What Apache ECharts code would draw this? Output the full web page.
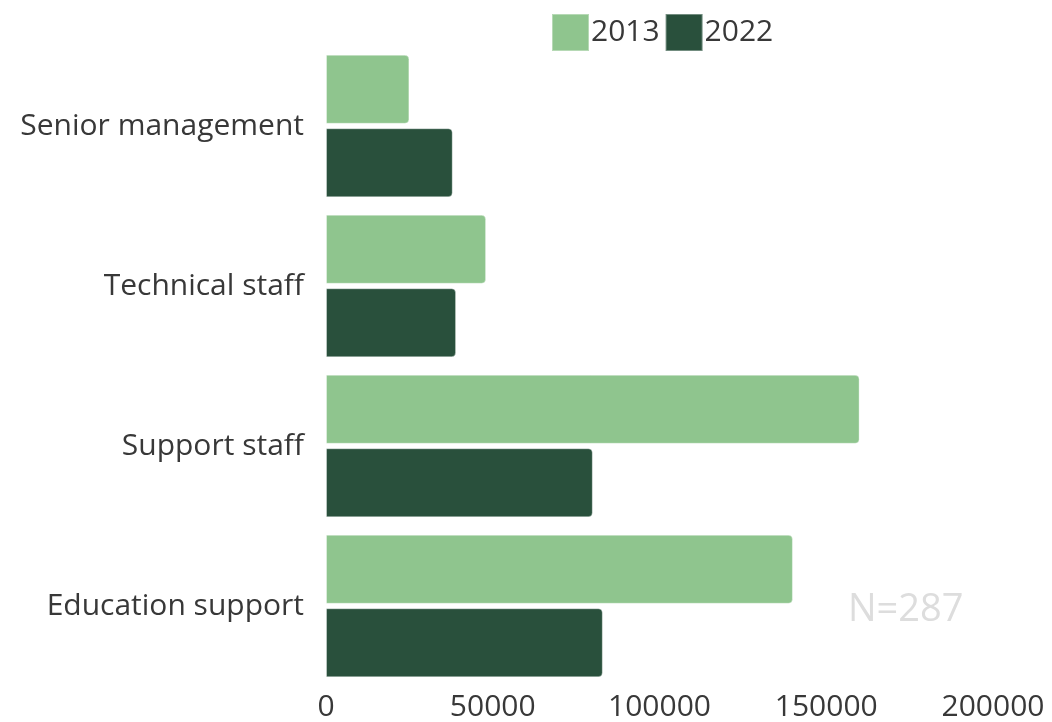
<!DOCTYPE html>
<html>
<head>
<meta charset="utf-8">
<script src="https://cdn.jsdelivr.net/npm/echarts@6/dist/echarts.min.js"></script>
<style>
html,body{margin:0;padding:0;background:#fff;}
#chart{width:1052px;height:722px;}
</style>
</head>
<body>
<div id="chart"></div>
<script>
const categories = ['Senior management', 'Technical staff', 'Support staff', 'Education support'];
const seriesNames = ['2013', '2022'];
const values2013 = [25000, 48000, 160000, 140000];
const values2022 = [38000, 39000, 80000, 83000];
const xTicks = [0, 50000, 100000, 150000, 200000];
const noteText = 'N=287';

const colors = ['#8fc58e', '#29503c'];
const font = '"Open Sans", "Noto Sans", sans-serif';

const chart = echarts.init(document.getElementById('chart'), null, {renderer: 'canvas'});
chart.setOption({
  animation: false,
  backgroundColor: '#ffffff',
  color: colors,
  textStyle: {fontFamily: font},
  legend: {
    left: 551,
    top: 13,
    padding: 0,
    itemWidth: 37,
    itemHeight: 37,
    itemGap: 5,
    icon: 'rect',
    textStyle: {fontFamily: font, fontSize: 30, color: '#383838', padding: [0, 0, 0, -3]},
    data: seriesNames
  },
  grid: {left: 326, right: 59, top: 46, bottom: 34, containLabel: false},
  xAxis: {
    type: 'value',
    min: xTicks[0],
    max: xTicks[xTicks.length - 1],
    interval: xTicks[1] - xTicks[0],
    axisLine: {show: false},
    axisTick: {show: false},
    splitLine: {show: false},
    axisLabel: {fontFamily: font, fontSize: 30, color: '#383838', margin: 6, formatter: v => String(v)}
  },
  yAxis: {
    type: 'category',
    inverse: true,
    data: categories,
    axisLine: {show: false},
    axisTick: {show: false},
    axisLabel: {fontFamily: font, fontSize: 30, color: '#383838', margin: 22}
  },
  graphic: [{
    type: 'text',
    left: 848,
    top: 591,
    style: {text: noteText, fontFamily: font, fontSize: 38, fill: '#dddddd'}
  }],
  series: [
    {
      name: seriesNames[0], type: 'bar', data: values2013,
      barWidth: 69, barGap: '6.5%',
      itemStyle: {color: colors[0], borderRadius: [0, 4, 4, 0], borderColor: 'rgba(255,255,255,0.35)', borderWidth: 1}
    },
    {
      name: seriesNames[1], type: 'bar', data: values2022,
      barWidth: 69, barGap: '6.5%',
      itemStyle: {color: colors[1], borderRadius: [0, 4, 4, 0], borderColor: 'rgba(255,255,255,0.35)', borderWidth: 1}
    }
  ]
});
</script>
</body>
</html>
